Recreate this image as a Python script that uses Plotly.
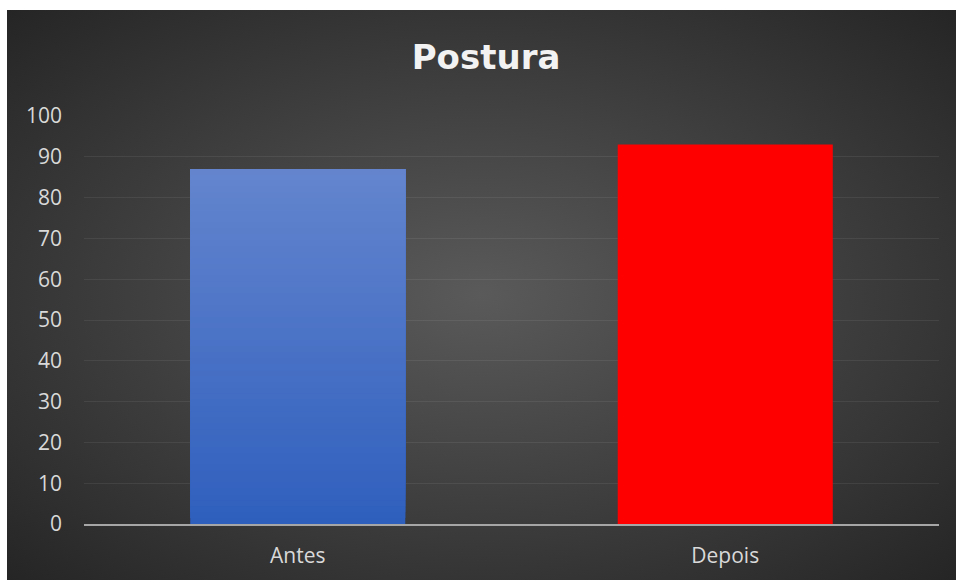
import base64
import plotly.graph_objects as go

# ---- data ----
categories = ["Antes", "Depois"]
values = [87, 93]
title_text = "Postura"
y_ticks = [0, 10, 20, 30, 40, 50, 60, 70, 80, 90, 100]

# ---- styles ----
blue_bottom = (0x2F, 0x5F, 0xBD)
blue_top = (0x64, 0x85, 0xCE)
red = "#FF0000"
n_seg = 60

W, H = 956, 580
L, R, T, B = 84, 17, 116, 56
pw, ph = W - L - R, H - T - B

fig = go.Figure()

# gradient blue bar (Antes): overlapping slices, each running up to the value
v0 = values[0]
bases = [v0 * i / n_seg for i in range(n_seg)]
heights = [v0 - b for b in bases]
cols = []
for i in range(n_seg):
    t = (i + 0.5) / n_seg
    c = tuple(round(blue_bottom[k] + (blue_top[k] - blue_bottom[k]) * t) for k in range(3))
    cols.append("rgb(%d,%d,%d)" % c)
for i in range(n_seg):
    fig.add_trace(go.Bar(
        x=[categories[0]], y=[heights[i]], base=[bases[i]],
        marker=dict(color=cols[i], line=dict(width=0)),
        hoverinfo="skip", showlegend=False,
    ))
# red bar (Depois)
fig.add_trace(go.Bar(
    x=[categories[1]], y=[values[1]],
    marker=dict(color=red, line=dict(width=0)),
    showlegend=False,
))

# radial gradient background as an SVG image
bw, bh = W - 7, H - 10
svg = (
    f'<svg xmlns="http://www.w3.org/2000/svg" width="{bw}" height="{bh}" viewBox="0 0 {bw} {bh}" preserveAspectRatio="none">'
    '<defs><radialGradient id="g" cx="50%" cy="50%" r="72%">'
    '<stop offset="0" stop-color="#5a5a5a"/><stop offset="1" stop-color="#242424"/>'
    f'</radialGradient></defs><rect width="{bw}" height="{bh}" fill="url(#g)"/></svg>'
)
src = "data:image/svg+xml;base64," + base64.b64encode(svg.encode()).decode()

x0 = (7 - L) / pw
x1 = (W - L) / pw
y_top = (H - B - 10) / ph
y_bot = (H - B - H) / ph

fig.update_layout(
    width=W, height=H,
    margin=dict(l=L, r=R, t=T, b=B),
    paper_bgcolor="white",
    plot_bgcolor="rgba(0,0,0,0)",
    barmode="overlay",
    bargap=0.497,
    images=[dict(source=src, xref="paper", yref="paper", x=x0, y=y_top,
                 sizex=x1 - x0, sizey=y_top - y_bot, sizing="stretch",
                 xanchor="left", yanchor="top", layer="below")],
    title=dict(text="<b>" + title_text + "</b>", x=486 / W, xref="container",
               y=1 - 57.5 / H, yref="container", xanchor="center", yanchor="middle",
               font=dict(family="DejaVu Sans", size=34, color="#F2F2F2")),
    font=dict(family="Open Sans", color="#D9D9D9"),
    xaxis=dict(categoryorder="array", categoryarray=categories,
               showgrid=False, showline=True, linecolor="#A6A6A6", linewidth=2,
               ticks="", tickfont=dict(size=21, color="#D9D9D9"),
               ticklabelstandoff=12, fixedrange=True),
    yaxis=dict(range=[0, 100], tickvals=y_ticks, showgrid=True,
               gridcolor="rgba(255,255,255,0.07)", gridwidth=1,
               zeroline=False, showline=False, ticks="",
               tickfont=dict(size=21, color="#D9D9D9"),
               ticklabelstandoff=21, fixedrange=True),
)

fig.write_html("out.html", config={"displayModeBar": False},
               post_script="document.body.style.margin='0';document.body.style.overflow='hidden';")
